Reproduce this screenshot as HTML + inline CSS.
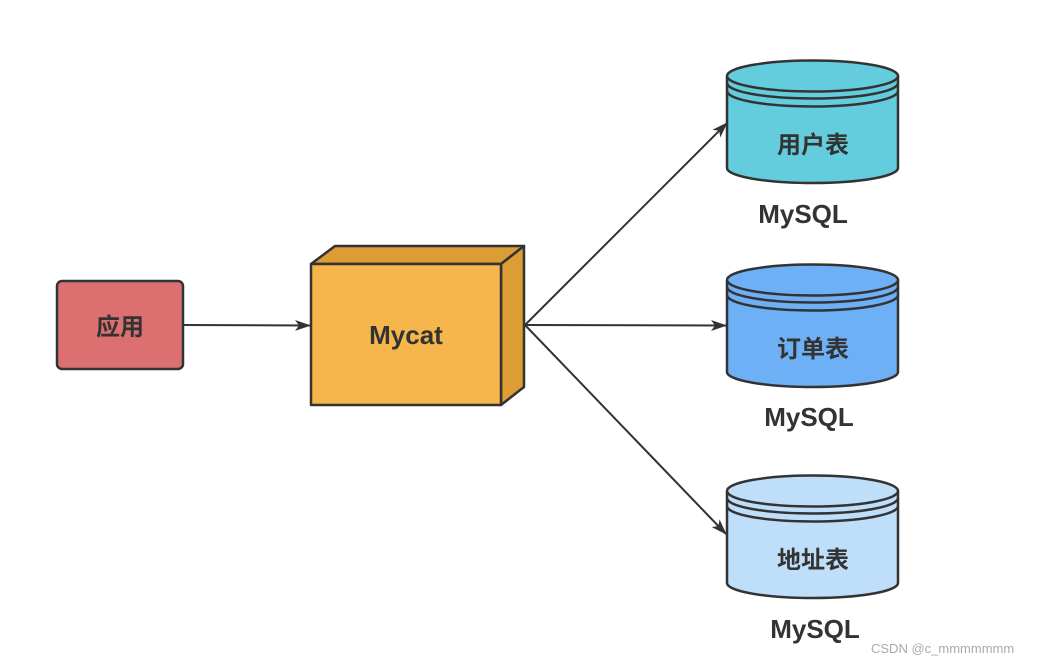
<!DOCTYPE html>
<html><head><meta charset="utf-8"><style>
html,body{margin:0;padding:0;background:#fff;}
svg{display:block;}
text{font-family:"Liberation Sans","Noto Sans CJK SC",sans-serif;font-weight:bold;fill:#333;}
</style></head><body>
<svg width="1040" height="664" viewBox="0 0 1040 664" xmlns="http://www.w3.org/2000/svg">
<defs>
<marker id="a" markerWidth="16" markerHeight="16" refX="15" refY="6" orient="auto" markerUnits="userSpaceOnUse" viewBox="0 0 16 12">
<path d="M0,0.5 L16,6 L0,11.5 L4,6 Z" fill="#333"/>
</marker>
</defs>
<g stroke="#333" stroke-width="2" fill="none">
<line x1="183" y1="325" x2="310" y2="325.5" marker-end="url(#a)"/>
<line x1="525" y1="325" x2="727" y2="123" marker-end="url(#a)"/>
<line x1="525" y1="325" x2="726" y2="325.5" marker-end="url(#a)"/>
<line x1="525" y1="325" x2="726" y2="534" marker-end="url(#a)"/>
</g>
<rect x="57" y="281" width="126" height="88" rx="5" fill="#dc7070" stroke="#333" stroke-width="2.5"/>
<text x="120" y="335" font-size="24" text-anchor="middle">应用</text>
<g stroke="#333" stroke-width="2.5" stroke-linejoin="round">
<polygon points="311,264 335,246 524,246 501,264" fill="#dc9d35"/>
<polygon points="501,264 524,246 524,387 501,405" fill="#dc9d35"/>
<rect x="311" y="264" width="190" height="141" fill="#f7b64b"/>
</g>
<text x="406" y="344" font-size="26" text-anchor="middle">Mycat</text>
<g stroke="#333" stroke-width="2.5">
<g fill="#63ccdd">
<path d="M727,76 L727,168 A85.5,15 0 0 0 898,168 L898,76"/>
<ellipse cx="812.5" cy="76" rx="85.5" ry="15.5"/>
<path d="M727,83 A85.5,15.5 0 0 0 898,83" fill="none"/>
<path d="M727,91 A85.5,15.5 0 0 0 898,91" fill="none"/>
</g>
<g fill="#6db0f6">
<path d="M727,280 L727,372 A85.5,15 0 0 0 898,372 L898,280"/>
<ellipse cx="812.5" cy="280" rx="85.5" ry="15.5"/>
<path d="M727,287 A85.5,15.5 0 0 0 898,287" fill="none"/>
<path d="M727,295 A85.5,15.5 0 0 0 898,295" fill="none"/>
</g>
<g fill="#bedefa">
<path d="M727,491 L727,583 A85.5,15 0 0 0 898,583 L898,491"/>
<ellipse cx="812.5" cy="491" rx="85.5" ry="15.5"/>
<path d="M727,498 A85.5,15.5 0 0 0 898,498" fill="none"/>
<path d="M727,506 A85.5,15.5 0 0 0 898,506" fill="none"/>
</g>
</g>
<text x="813" y="153" font-size="24" text-anchor="middle">用户表</text>
<text x="813" y="357" font-size="24" text-anchor="middle">订单表</text>
<text x="813" y="568" font-size="24" text-anchor="middle">地址表</text>
<text x="803" y="223" font-size="26" text-anchor="middle">MySQL</text>
<text x="809" y="426" font-size="26" text-anchor="middle">MySQL</text>
<text x="815" y="638" font-size="26" text-anchor="middle">MySQL</text>
<text x="871" y="653" font-size="13" style="font-weight:normal;fill:#aaa">CSDN @c_mmmmmmm</text>
</svg>
</body></html>
